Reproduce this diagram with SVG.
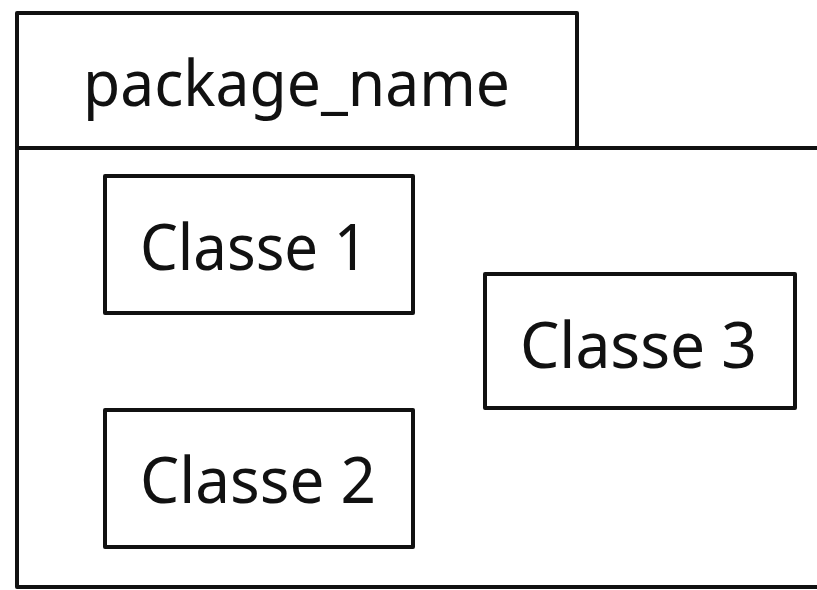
<svg xmlns="http://www.w3.org/2000/svg" width="817" height="590" viewBox="0 0 817 590">
<style>
.b{fill:#fff;stroke:#111;stroke-width:4;stroke-linejoin:round}
.t{font-family:"Noto Sans","Open Sans",sans-serif;font-size:64px;fill:#111}
</style>
<rect width="817" height="590" fill="#fff"/>
<g id="package">
<rect class="b" x="17" y="13" width="560" height="135"/>
<rect class="b" x="17" y="148" width="830" height="439"/>
<text class="t" x="83" y="106" textLength="427" lengthAdjust="spacingAndGlyphs">package_name</text>
</g>
<g id="classe1">
<rect class="b" x="105" y="176" width="308" height="137"/>
<text class="t" x="140" y="270" textLength="228" lengthAdjust="spacingAndGlyphs">Classe 1</text>
</g>
<g id="classe2">
<rect class="b" x="105" y="410" width="308" height="137"/>
<text class="t" x="140" y="503" textLength="236" lengthAdjust="spacingAndGlyphs">Classe 2</text>
</g>
<g id="classe3">
<rect class="b" x="485" y="274" width="310" height="134"/>
<text class="t" x="520" y="368" textLength="237" lengthAdjust="spacingAndGlyphs">Classe 3</text>
</g>
<g id="connectors"/>
</svg>
